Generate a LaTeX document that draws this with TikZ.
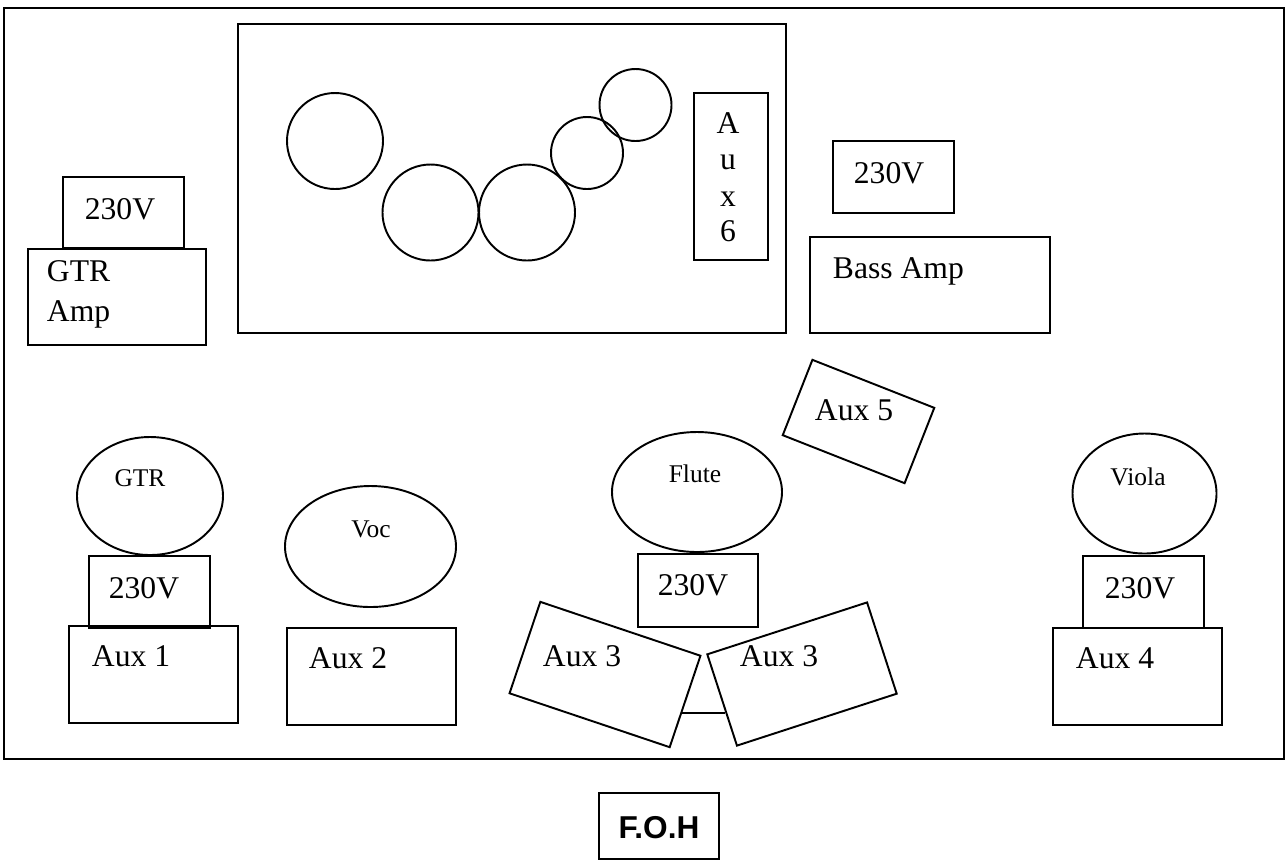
\documentclass[tikz,border=0pt]{standalone}
\usepackage{fontspec}
\setmainfont{Liberation Serif}
\newfontfamily\fohfont{Liberation Sans}
\usetikzlibrary{calc}

\begin{document}
\begin{tikzpicture}[x=0.02cm,y=-0.02cm,line width=1.1pt,
    big/.style={inner sep=0pt,font=\fontsize{18}{22.6}\selectfont},
    small/.style={inner sep=0pt,font=\fontsize{14.5}{17.4}\selectfont},
    tilted/.style={draw,inner sep=0pt}]
    \useasboundingbox (0,0) rectangle (1287,860);
    % stage
    \draw (4,8) rectangle (1284,759);
    % drum riser
    \draw (238,24) rectangle (786,333);
    \draw (335,141) circle [radius=48];
    \draw (430.5,212.5) circle [radius=48];
    \draw (527,212.5) circle [radius=48];
    \draw (587,153) circle [radius=36];
    \draw (635.5,105) circle [radius=36];
    \draw (694,93) rectangle (768,260);
    \foreach \ch/\yb [count=\i] in {A/133,u/169,x/206,6/241}
        \node[big,anchor=base] (aux6l\i) at (728,\yb) {\ch};
    % amps
    \draw (63,177) rectangle (184,248);
    \draw (28,249) rectangle (206,345);
    \node[big,anchor=base] (pwrgtr) at (120,219) {230V};
    \node[big,anchor=north west,align=left] (gtramp) at (46,260) {GTR\\Amp};
    \draw (833,141) rectangle (954,213);
    \draw (810,237) rectangle (1050,333);
    \node[big,anchor=base] (pwrbass) at (889,183) {230V};
    \node[big,anchor=base west] (bassamp) at (832,278) {Bass Amp};
    % front line
    \draw (150,496) ellipse [x radius=73, y radius=59];
    \node[small,anchor=base] (gtr) at (140,486) {GTR};
    \draw (89,556) rectangle (210,628);
    \node[big,anchor=base] (pwrgtrmic) at (144,598) {230V};
    \draw (69,626) rectangle (238,723);
    \node[big,anchor=base west] (aux1) at (91,666) {Aux 1};
    \draw (370.5,546.5) ellipse [x radius=85.5, y radius=60.5];
    \node[small,anchor=base] (voc) at (371,537) {Voc};
    \draw (287,628) rectangle (456,725);
    \node[big,anchor=base west] (aux2) at (308,668) {Aux 2};
    \draw (697,492) ellipse [x radius=85, y radius=60];
    \node[small,anchor=base] (flute) at (695,482) {Flute};
    \draw (638,554) rectangle (758,627);
    \node[big,anchor=base] (pwrflute) at (693,595) {230V};
    \node[tilted,minimum width=3.38cm,minimum height=1.93cm,rotate=-18.6] (aux3l) at (605,674.5) {};
    \node[tilted,minimum width=3.36cm,minimum height=1.92cm,rotate=18] (aux3r) at (802,674) {};
    \node[big,anchor=base west] (aux3a) at (542,666) {Aux 3};
    \node[big,anchor=base west] (aux3b) at (739,666) {Aux 3};
    \coordinate (barl) at ($(aux3l.north east)!0.62!(aux3l.south east)$);
    \coordinate (barr) at ($(aux3r.north west)!0.62!(aux3r.south west)$);
    \draw (barl) -- (barl -| barr);
    \node[tilted,minimum width=2.62cm,minimum height=1.62cm,rotate=-21.5] (aux5box) at (858.5,421.5) {};
    \node[big,anchor=base west] (aux5) at (814,420) {Aux 5};
    \draw (1144.5,493.5) ellipse [x radius=72, y radius=60];
    \node[small,anchor=base] (viola) at (1138,485) {Viola};
    \draw (1083,556) rectangle (1204,628);
    \node[big,anchor=base] (pwrviola) at (1140,598) {230V};
    \draw (1053,628) rectangle (1222,725);
    \node[big,anchor=base west] (aux4) at (1075,668) {Aux 4};
    % front of house
    \draw (599,793) rectangle (719,859);
    \node[inner sep=0pt,anchor=base,font=\fohfont\bfseries\fontsize{18}{21.6}\selectfont] (foh) at (659,838) {F.O.H};
\end{tikzpicture}
\end{document}
